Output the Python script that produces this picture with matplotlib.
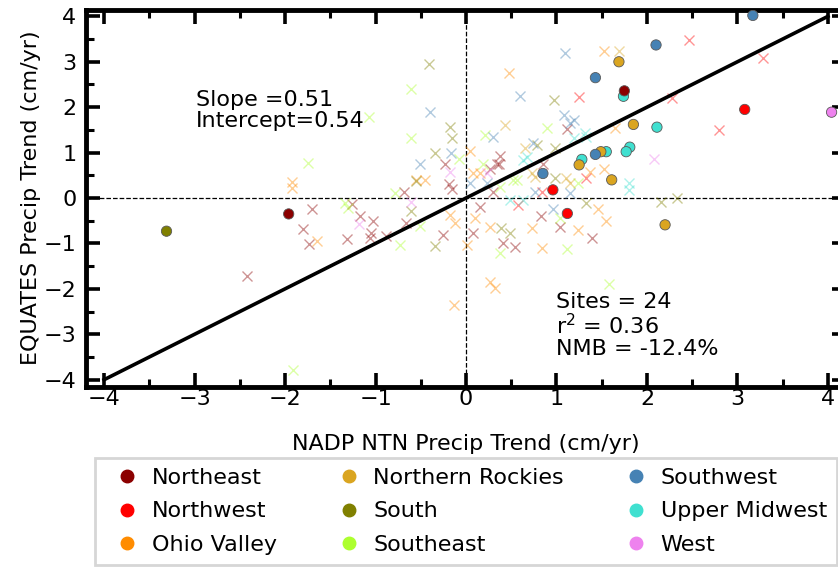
import numpy as np
import matplotlib
matplotlib.use('Agg')
import matplotlib.pyplot as plt
from matplotlib.lines import Line2D

# regions and colours
regions = ['Northeast', 'Northwest', 'Ohio Valley',
           'Northern Rockies', 'South', 'Southeast',
           'Southwest', 'Upper Midwest', 'West']
region_colors = ['darkred', 'red', 'darkorange',
                 'goldenrod', 'olive', 'greenyellow',
                 'steelblue', 'turquoise', 'violet']

# 24 sites (filled circles)
site_region = ['Southwest', 'Southwest', 'Northern Rockies', 'Southwest', 'Upper Midwest', 'Northeast',
               'Northwest', 'West', 'Northern Rockies', 'Upper Midwest', 'Upper Midwest', 'Upper Midwest',
               'Upper Midwest', 'Northern Rockies', 'Southwest', 'Upper Midwest', 'Northern Rockies',
               'Southwest', 'Northern Rockies', 'Northwest', 'Northwest', 'Northern Rockies', 'South',
               'Northeast']
site_x = [3.17, 2.10, 1.69, 1.43, 1.74, 1.75, 3.08, 4.04, 1.85, 2.11, 1.81, 1.77,
          1.55, 1.49, 1.43, 1.28, 1.25, 0.85, 1.61, 0.96, 1.12, 2.20, -3.31, -1.96]
site_y = [4.02, 3.37, 3.00, 2.65, 2.24, 2.36, 1.95, 1.89, 1.62, 1.56, 1.12, 1.02,
          1.02, 1.02, 0.96, 0.85, 0.73, 0.54, 0.40, 0.18, -0.34, -0.59, -0.73, -0.35]

# all other sites (faint crosses)
ne_x = [-0.23, -0.19, -0.68, -1.70, -1.80, -1.73, -2.42, -1.26, -1.17, -1.03, -1.05, -1.06, -1.32, -0.88,
        -0.66, -0.25, -0.16, 0.27, 0.34, 0.15, 0.08, 1.12, 0.38, 0.36, 0.30, 0.83, 1.04, 1.39, 0.41, 0.54, 0.85]
ne_y = [0.76, 0.30, 0.13, -0.24, -0.69, -1.01, -1.71, -0.13, -0.40, -0.51, -0.76, -0.89, -0.91, -0.84,
        -0.54, -0.82, 0.19, 0.65, 0.76, -0.19, -0.78, 1.52, 0.93, 0.76, 0.14, -0.40, -0.63, -0.87, -1.00, -1.07, 0.76]
nw_x = [2.46, 1.25, 2.28, 1.33, 0.84, 0.58, 3.28, 2.80]
nw_y = [3.48, 2.23, 2.21, 0.43, 0.14, -0.15, 3.08, 1.50]
ov_x = [-1.92, -1.92, -0.55, -0.45, -0.18, -0.12, -0.13, 0.04, 0.08, 0.15, 0.01, 0.10, 0.27, 1.52, 0.47,
        1.65, 1.37, 1.52, 1.46, 1.24, 1.55, 0.73, 0.84, 0.27, 0.32, -1.65]
ov_y = [0.36, 0.23, 0.40, 0.40, -0.37, -0.56, -2.36, 1.04, 0.54, 0.54, -1.04, -0.45, -0.63, 3.24, 2.75,
        1.54, 0.58, 0.65, -0.25, -0.70, -0.50, -0.67, -1.11, -1.84, -1.99, -0.94]
nr_x = [1.69, 0.73, 0.76, 1.11, 1.15, 0.43, 0.65]
nr_y = [3.24, 0.54, 0.47, 0.43, 0.32, 1.61, 1.10]
so_x = [-0.41, -0.18, -0.15, -0.34, -0.61, -0.34, -0.55, 0.97, 0.78, 0.98, 1.33, 2.16, 2.33, 0.39, 0.49, 0.98]
so_y = [2.95, 1.56, 1.32, 0.99, -0.29, -1.06, 0.38, 2.16, 1.17, 1.10, -0.12, -0.08, 0.00, -0.67, -0.78, 0.43]
se_x = [-0.61, -1.07, -0.61, -1.75, -0.78, -1.34, -1.30, -0.73, -0.51, -1.91, -0.08, 0.19, 0.21, 0.90,
        0.56, 0.38, 1.24, 1.04, 1.12, 0.38, 1.58, 0.52]
se_y = [2.40, 1.78, 1.32, 0.77, 0.12, -0.12, -0.23, -1.04, -0.62, -3.79, 0.87, 0.76, 1.39, 1.54,
        0.40, 0.25, 0.32, -0.43, -1.12, -1.22, -1.90, 0.40]
sw_x = [-0.40, -0.17, -0.51, 0.04, 0.23, 0.30, 1.09, 0.60, 1.08, 1.19, 1.15, 0.74, 0.76, 1.15, 0.96]
sw_y = [1.89, 0.99, 0.74, 0.32, 0.32, 1.35, 3.19, 2.25, 1.83, 1.72, 1.65, 1.21, 0.14, 0.10, -0.25]
um_x = [1.19, 1.31, 1.33, 0.67, 0.63, 1.80, 1.80, 0.49, 0.63]
um_y = [1.32, 1.43, 1.35, 0.91, 0.84, 0.32, 0.18, -0.04, -0.04]
we_x = [-0.18, -1.18, -0.61, 0.23, 2.08]
we_y = [0.58, -0.58, -0.08, 0.54, 0.87]

cross_x = [ne_x, nw_x, ov_x, nr_x, so_x, se_x, sw_x, um_x, we_x]
cross_y = [ne_y, nw_y, ov_y, nr_y, so_y, se_y, sw_y, um_y, we_y]

stats_left = 'Slope =0.51\nIntercept=0.54'
stats_right = 'Sites = 24\nr$^2$ = 0.36\nNMB = -12.4%'

fig = plt.figure(figsize=(8.38, 5.67), dpi=100)
ax = fig.add_axes([0.1026, 0.3183, 0.907, 0.6649])

for xs, ys, c in zip(cross_x, cross_y, region_colors):
    ax.plot(xs, ys, 'x', color=c, alpha=0.42, markersize=7, mew=1.0, zorder=1)

ax.axhline(0, color='k', ls='--', lw=0.9, zorder=0)
ax.axvline(0, color='k', ls='--', lw=0.9, zorder=0)
ax.plot([-4, 4], [-4, 4], color='k', lw=2.6, zorder=2)

cmap = dict(zip(regions, region_colors))
ax.scatter(site_x, site_y, c=[cmap[r] for r in site_region], s=55,
           edgecolors='0.35', linewidths=0.6, zorder=3)

ax.text(-2.98, 1.92, stats_left, fontsize=16, va='center', ha='left', linespacing=1.05)
ax.text(1.0, -2.8, stats_right, fontsize=16, va='center', ha='left', linespacing=1.05)

ax.set_xlim(-4.2, 4.2)
ax.set_ylim(-4.15, 4.15)
ax.set_xticks(np.arange(-4, 5, 1))
ax.set_yticks(np.arange(-4, 5, 1))
ax.set_xticks(np.arange(-4, 4.01, 0.5), minor=True)
ax.set_yticks(np.arange(-4, 4.01, 0.5), minor=True)
ax.tick_params(which='major', direction='in', length=10, width=2.6,
               top=True, right=True, labelsize=16)
ax.tick_params(axis='x', which='major', pad=2)
ax.tick_params(axis='y', which='major', pad=7)
ax.tick_params(which='minor', direction='in', length=6, width=2.2, top=True, right=True)
for s in ax.spines.values():
    s.set_linewidth(3.5)

ax.set_xlabel('NADP NTN Precip Trend (cm/yr)', fontsize=16, labelpad=18)
ax.set_ylabel('EQUATES Precip Trend (cm/yr)', fontsize=16, labelpad=2)

handles = [Line2D([], [], marker='o', ls='', color=c, markersize=9) for c in region_colors]
leg = fig.legend(handles, regions, loc='upper left', bbox_to_anchor=(95 / 838, 1 - 458 / 567),
                 ncol=3, fontsize=16, frameon=True, fancybox=False, borderpad=0.45, borderaxespad=0,
                 labelspacing=0.6, handlelength=2.0, handletextpad=0.1, columnspacing=2.25)
leg.get_frame().set_edgecolor('0.8')
leg.get_frame().set_linewidth(2)

fig.savefig('out.png', dpi=100)
